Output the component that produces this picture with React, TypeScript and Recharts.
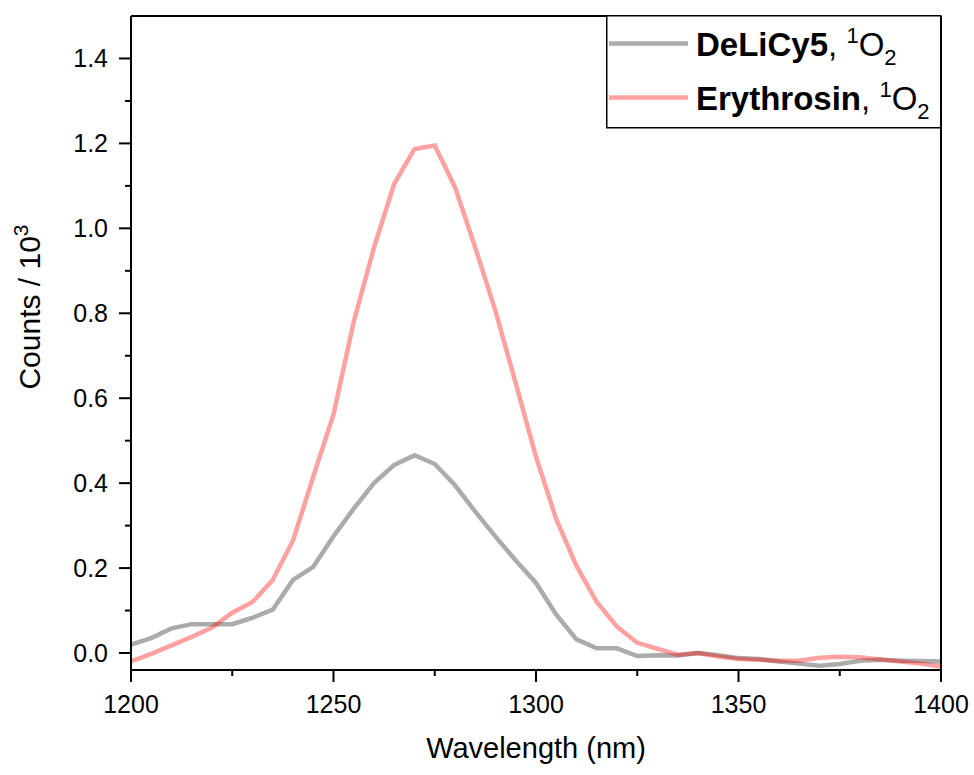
import React from 'react';
import { LineChart, Line, XAxis, YAxis, ReferenceLine, Legend, Label } from 'recharts';

const wavelengths = [
  1200, 1205, 1210, 1215, 1220, 1225, 1230, 1235, 1240, 1245,
  1250, 1255, 1260, 1265, 1270, 1275, 1280, 1285, 1290, 1295,
  1300, 1305, 1310, 1315, 1320, 1325, 1330, 1335, 1340, 1345,
  1350, 1355, 1360, 1365, 1370, 1375, 1380, 1385, 1390, 1395, 1400,
];

const delicy5 = [
  0.020, 0.035, 0.058, 0.068, 0.068, 0.068, 0.083, 0.102, 0.172, 0.203,
  0.275, 0.340, 0.400, 0.443, 0.466, 0.445, 0.395, 0.333, 0.274, 0.218,
  0.165, 0.090, 0.032, 0.011, 0.011, -0.007, -0.005, -0.006, 0.000, -0.005,
  -0.012, -0.014, -0.020, -0.025, -0.030, -0.026, -0.018, -0.016, -0.018, -0.019, -0.020,
];

const erythrosin = [
  -0.020, -0.002, 0.018, 0.038, 0.060, 0.095, 0.120, 0.172, 0.265, 0.415,
  0.562, 0.780, 0.955, 1.105, 1.187, 1.195, 1.097, 0.955, 0.805, 0.635,
  0.462, 0.315, 0.205, 0.120, 0.062, 0.024, 0.010, -0.004, 0.000, -0.008,
  -0.014, -0.016, -0.018, -0.018, -0.011, -0.009, -0.010, -0.015, -0.020, -0.025, -0.032,
];

const xMajorTicks = [1200, 1250, 1300, 1350, 1400];
const xMinorTicks = [1225, 1275, 1325, 1375];
const yMajorTicks = [0, 0.2, 0.4, 0.6, 0.8, 1.0, 1.2, 1.4];
const yMinorTicks = [0.1, 0.3, 0.5, 0.7, 0.9, 1.1, 1.3];

const seriesNames = ['DeLiCy5', 'Erythrosin'];
const seriesColors = ['rgba(0,0,0,0.33)', 'rgba(255,0,0,0.37)'];

const data = wavelengths.map((w, i) => ({ w, a: delicy5[i], b: erythrosin[i] }));

const FONT = 'Liberation Sans, Arial, sans-serif';

const XTick = (props: any) => {
  const { x, y, payload } = props;
  const major = xMajorTicks.includes(payload.value);
  return (
    <g>
      <line x1={x} y1={y} x2={x} y2={y + (major ? 12 : 6)} stroke="#000" strokeWidth={2} />
      {major && (
        <text x={x} y={y + 43} textAnchor="middle" fontSize={25} fontFamily={FONT} fill="#000">
          {payload.value}
        </text>
      )}
    </g>
  );
};

const YTick = (props: any) => {
  const { x, y, payload } = props;
  const major = yMajorTicks.some((t) => Math.abs(t - payload.value) < 1e-6);
  return (
    <g>
      <line x1={x} y1={y} x2={x - (major ? 12 : 6)} y2={y} stroke="#000" strokeWidth={2} />
      {major && (
        <text x={x - 23} y={y + 9} textAnchor="end" fontSize={25} fontFamily={FONT} fill="#000">
          {Number(payload.value).toFixed(1)}
        </text>
      )}
    </g>
  );
};

const XTitle = (props: any) => {
  const vb = props.viewBox || {};
  const cx = vb.x + vb.width / 2;
  return (
    <text x={cx} y={vb.y + 88} textAnchor="middle" fontSize={29} fontFamily={FONT} fill="#000">
      Wavelength (nm)
    </text>
  );
};

const YTitle = (props: any) => {
  const vb = props.viewBox || {};
  const tx = 40;
  const ty = vb.y + vb.height / 2 - 36;
  return (
    <text
      x={tx}
      y={ty}
      transform={`rotate(-90, ${tx}, ${ty})`}
      textAnchor="middle"
      fontSize={30}
      fontFamily={FONT}
      fill="#000"
    >
      Counts / 10
      <tspan dy={-12} fontSize={21}>3</tspan>
    </text>
  );
};

const LegendContent = () => (
  <svg width={336} height={114} style={{ display: 'block', overflow: 'visible' }}>
    <rect x={0.75} y={0.75} width={334} height={112} fill="#fff" stroke="#000" strokeWidth={1.5} />
    {seriesNames.map((name, i) => {
      const ly = 28.5 + i * 54;
      const by = 40.5 + i * 54;
      return (
        <g key={name}>
          <line x1={3} y1={ly} x2={82} y2={ly} stroke={seriesColors[i]} strokeWidth={4.5} />
          <text x={90} y={by} fontSize={33} fontFamily={FONT} fill="#000">
            <tspan fontWeight="bold">{name}</tspan>
            <tspan>, </tspan>
            <tspan dy={-13} fontSize={22}>1</tspan>
            <tspan dy={13}>O</tspan>
            <tspan dy={9} fontSize={22}>2</tspan>
          </text>
        </g>
      );
    })}
  </svg>
);

export default function App() {
  return (
    <div style={{ position: 'absolute', left: 0, top: 0, width: 974, height: 775, background: '#fff' }}>
      <LineChart
        width={974}
        height={775}
        data={data}
        margin={{ top: 16, right: 33, bottom: 0, left: 0 }}
      >
        <XAxis
          dataKey="w"
          type="number"
          domain={[1200, 1400]}
          ticks={[...xMajorTicks, ...xMinorTicks]}
          interval={0}
          allowDataOverflow
          height={105}
          tickSize={0}
          tickMargin={0}
          tickLine={false}
          tick={<XTick />}
          axisLine={{ stroke: '#000', strokeWidth: 2 }}
        >
          <Label content={<XTitle />} />
        </XAxis>
        <YAxis
          type="number"
          domain={[-0.04, 1.5]}
          ticks={[...yMajorTicks, ...yMinorTicks]}
          interval={0}
          allowDataOverflow
          width={131}
          tickSize={0}
          tickMargin={0}
          tickLine={false}
          tick={<YTick />}
          axisLine={{ stroke: '#000', strokeWidth: 2 }}
        >
          <Label content={<YTitle />} />
        </YAxis>
        <ReferenceLine y={1.5} stroke="#000" strokeWidth={2} />
        <ReferenceLine x={1400} stroke="#000" strokeWidth={2} />
        <Line
          type="linear"
          dataKey="a"
          name={seriesNames[0]}
          stroke={seriesColors[0]}
          strokeWidth={4.5}
          dot={false}
          isAnimationActive={false}
        />
        <Line
          type="linear"
          dataKey="b"
          name={seriesNames[1]}
          stroke={seriesColors[1]}
          strokeWidth={4.5}
          dot={false}
          isAnimationActive={false}
        />
        <Legend
          layout="horizontal"
          verticalAlign="middle"
          align="center"
          content={<LegendContent />}
          wrapperStyle={{ left: 606, top: 15, width: 336, height: 114 }}
        />
      </LineChart>
    </div>
  );
}
